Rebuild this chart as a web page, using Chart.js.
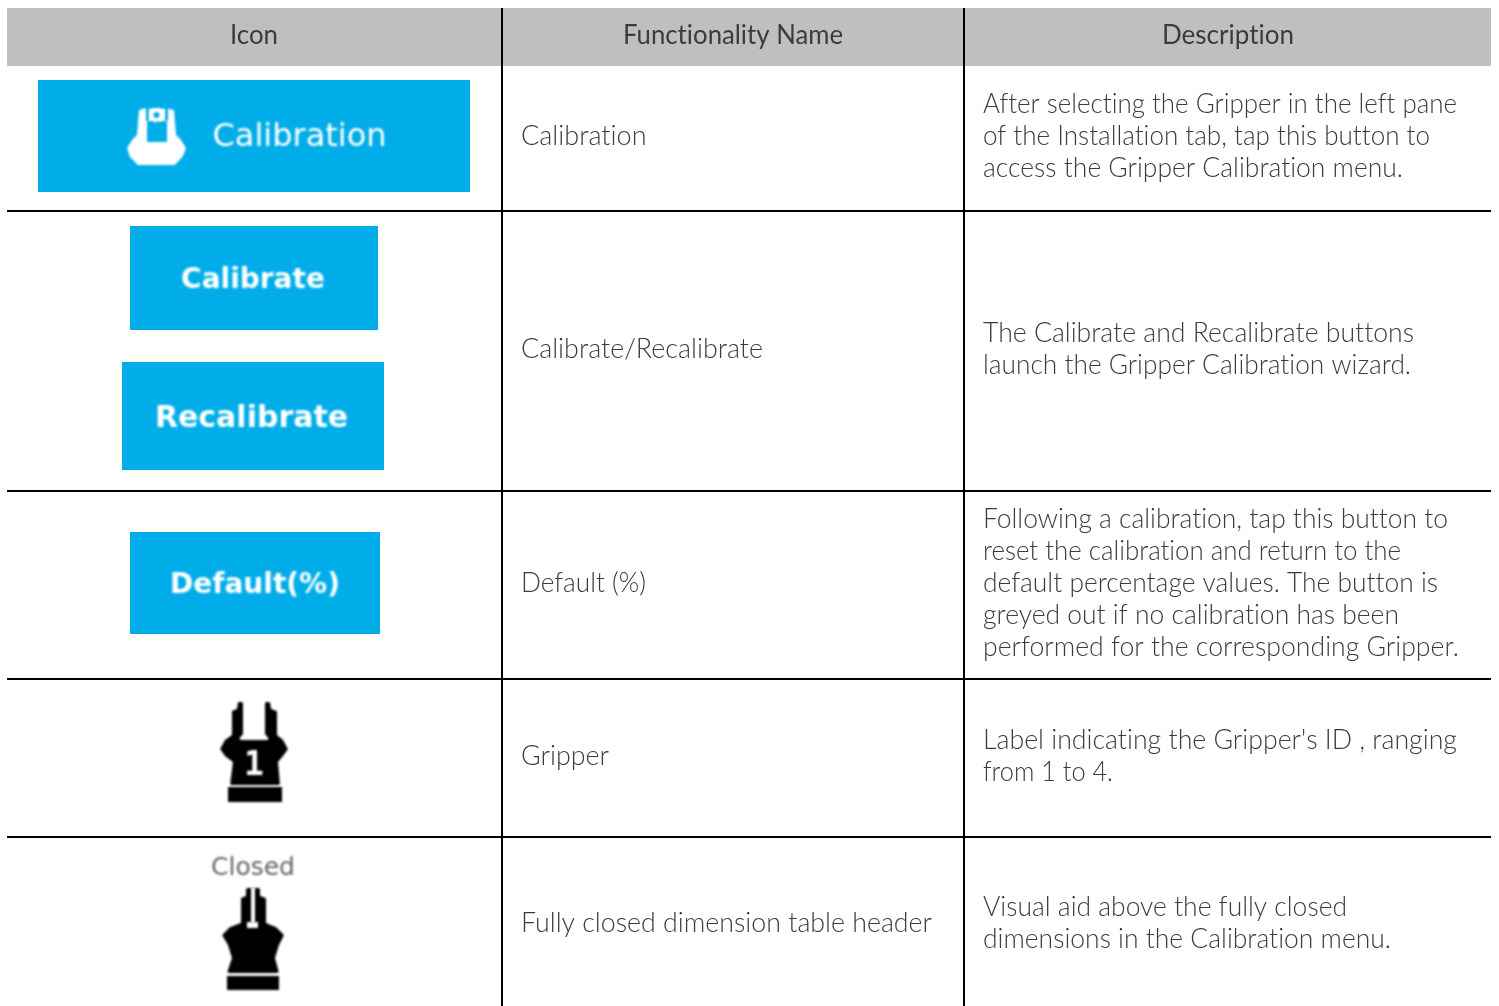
<!DOCTYPE html>
<html>
<head>
<meta charset="utf-8">
<title>Gripper calibration icons</title>
<script src="https://cdn.jsdelivr.net/npm/chart.js@4"></script>
<style>
  html, body { margin: 0; padding: 0; background: #fff; overflow: hidden; }
  canvas { display: block; }
</style>
</head>
<body>
<canvas id="tableChart" width="1499" height="1006"></canvas>
<script>
// Table content
const headers = ['Icon', 'Functionality Name', 'Description'];
const functionalityNames = [
    'Calibration',
    'Calibrate/Recalibrate',
    'Default (%)',
    'Gripper',
    'Fully closed dimension table header'
];
const descriptions = [
    ['After selecting the Gripper in the left pane', 'of the Installation tab, tap this button to', 'access the Gripper Calibration menu.'],
    ['The Calibrate and Recalibrate buttons', 'launch the Gripper Calibration wizard.'],
    ['Following a calibration, tap this button to', 'reset the calibration and return to the', 'default percentage values. The button is', 'greyed out if no calibration has been', 'performed for the corresponding Gripper.'],
    ["Label indicating the Gripper's ID , ranging", 'from 1 to 4.'],
    ['Visual aid above the fully closed', 'dimensions in the Calibration menu.']
];
const buttonLabels = ['Calibration', 'Calibrate', 'Recalibrate', 'Default(%)'];
const gripperId = '1';
const closedLabel = 'Closed';

// Layout, in page pixels
const columnLines = [502, 964];
const rowLines = [211, 491, 679, 837];
const headerBand = { left: 7, right: 1491, top: 8, bottom: 66 };
const buttonBoxes = [
    { left: 38, right: 470, top: 80, bottom: 192, textX: 299.5, textY: 138, font: '32px "DejaVu Sans"' },
    { left: 130, right: 378, top: 226, bottom: 330, textX: 253, textY: 281, font: 'bold 28px "DejaVu Sans"' },
    { left: 122, right: 384, top: 362, bottom: 470, textX: 251.5, textY: 419, font: 'bold 30px "DejaVu Sans"' },
    { left: 130, right: 380, top: 532, bottom: 634, textX: 255, textY: 586, font: 'bold 28px "DejaVu Sans"' }
];
const headerX = [254, 733, 1228];
const headerWidths = [48, 220, 132];
const headerY = 35;
const nameX = 521;
const nameWidths = [126, 242, 125, 88, 411];
const nameY = [136, 349, 583, 756, 923];
const descriptionX = 983;
const descriptionWidths = [[474, 447, 420], [431, 428], [465, 418, 455, 416, 476], [474, 130], [364, 408]];
const descriptionY = [104, 333, 519, 740, 907];
const lineHeight = 32;
const BLUE = '#00ADE9';
const BODY_FONT = '300 27px Lato';
const HEADER_FONT = '400 27px Lato';
const TEXT_COLOR = '#3c3c3c';

function bar(left, right, top, bottom, color) {
    return {
        data: [{ x: [left, right], y: (top + bottom) / 2 }],
        barThickness: bottom - top,
        backgroundColor: color
    };
}

// Chart.js paints the first dataset last, so the lines come first to stay on top of the header band
const datasets = [];
columnLines.forEach(x => datasets.push(bar(x - 1, x + 1, headerBand.top, 1006, '#000000')));
rowLines.forEach(y => datasets.push(bar(headerBand.left, headerBand.right, y - 1, y + 1, '#000000')));
buttonBoxes.forEach(b => datasets.push(bar(b.left, b.right, b.top, b.bottom, BLUE)));
datasets.push(bar(headerBand.left, headerBand.right, headerBand.top, headerBand.bottom, '#BFBFBF'));

// Filled outline with slightly rounded corners
function outline(ctx, points, radius) {
    const n = points.length;
    const first = points[0];
    const last = points[n - 1];
    ctx.beginPath();
    ctx.moveTo((first[0] + last[0]) / 2, (first[1] + last[1]) / 2);
    points.forEach((p, i) => {
        const next = points[(i + 1) % n];
        ctx.arcTo(p[0], p[1], (p[0] + next[0]) / 2, (p[1] + next[1]) / 2, radius);
    });
    ctx.closePath();
    ctx.fill();
}

function drawCameraIcon(ctx, px, py) {
    ctx.fillStyle = '#FFFFFF';
    outline(ctx, [[139, 110], [146, 108], [166, 108], [174, 110], [176, 135], [181, 140], [186, 148], [183, 156], [175, 165], [138, 165], [130, 157], [127, 148], [132, 140], [137, 135]].map(p => [px(p[0]), py(p[1])]), 2);
    ctx.fillStyle = BLUE;
    ctx.fillRect(px(147), py(121), 20, 21);
    ctx.fillRect(px(146), py(106), 3, 15);
    ctx.fillRect(px(165), py(106), 3, 15);
    ctx.fillRect(px(146), py(106), 22, 2);
    ctx.fillStyle = '#FFFFFF';
    ctx.beginPath();
    ctx.arc(px(156.5), py(115), 5.5, 0, Math.PI * 2);
    ctx.fill();
    ctx.strokeStyle = '#FFFFFF';
    ctx.lineWidth = 2;
    ctx.setLineDash([2.5, 2.6]);
    ctx.beginPath();
    ctx.arc(px(156.5), py(115), 6.5, 0, Math.PI * 2);
    ctx.stroke();
    ctx.setLineDash([]);
    ctx.fillStyle = BLUE;
    ctx.beginPath();
    ctx.arc(px(156.5), py(115), 3, 0, Math.PI * 2);
    ctx.fill();
}

function drawGripperOpen(ctx, px, py) {
    ctx.fillStyle = '#000000';
    outline(ctx, [[243, 702], [243, 734], [238, 740], [270, 740], [265, 734], [265, 702], [270, 702], [271, 709], [277, 711], [277, 735], [283, 740], [288, 749], [283, 756], [278, 762], [280, 785], [230, 785], [233, 762], [225, 756], [220, 749], [225, 740], [232, 735], [232, 711], [237, 709], [238, 702]].map(p => [px(p[0]), py(p[1])]), 1.5);
    ctx.fillRect(px(228), py(787), 54, 15);
    ctx.fillStyle = '#FFFFFF';
    ctx.font = 'bold 33px "DejaVu Sans Mono"';
    ctx.textAlign = 'center';
    ctx.textBaseline = 'middle';
    ctx.fillText(gripperId, px(254), py(766));
}

function drawGripperClosed(ctx, px, py) {
    ctx.fillStyle = '#000000';
    outline(ctx, [[246, 888], [260, 888], [260, 896], [266, 898], [266, 923], [276, 927], [284, 935], [279, 945], [275, 958], [279, 973], [227, 973], [232, 958], [228, 945], [222, 935], [230, 927], [241, 923], [241, 898], [246, 896]].map(p => [px(p[0]), py(p[1])]), 1.5);
    ctx.fillRect(px(227), py(976), 52, 14);
    ctx.fillStyle = '#FFFFFF';
    ctx.fillRect(px(251), py(887), 4, 36);
    ctx.fillRect(px(247), py(922), 11, 6);
}

// Draws the text and the small icons on top of the bars
const tableText = {
    id: 'tableText',
    afterDatasetsDraw(chart) {
        const ctx = chart.ctx;
        const px = v => chart.scales.x.getPixelForValue(v);
        const py = v => chart.scales.y.getPixelForValue(v);
        ctx.save();
        ctx.textBaseline = 'middle';
        ctx.textRendering = 'optimizeSpeed'; // no ti ligature, the source font has none

        ctx.fillStyle = TEXT_COLOR;
        ctx.font = HEADER_FONT;
        ctx.textAlign = 'center';
        headers.forEach((h, i) => ctx.fillText(h, px(headerX[i]), py(headerY), headerWidths[i]));

        ctx.font = BODY_FONT;
        ctx.textAlign = 'left';
        functionalityNames.forEach((n, i) => ctx.fillText(n, px(nameX), py(nameY[i]), nameWidths[i]));
        descriptions.forEach((lines, i) => {
            lines.forEach((line, j) => ctx.fillText(line, px(descriptionX), py(descriptionY[i] + j * lineHeight), descriptionWidths[i][j]));
        });

        // the icons in the source are scaled bitmaps, so soften them a little
        ctx.filter = 'blur(0.8px)';
        ctx.textAlign = 'center';
        ctx.fillStyle = '#FFFFFF';
        buttonBoxes.forEach((b, i) => {
            ctx.font = b.font;
            ctx.fillText(buttonLabels[i], px(b.textX), py(b.textY));
        });
        ctx.fillStyle = '#666666';
        ctx.font = '25px "DejaVu Sans"';
        ctx.fillText(closedLabel, px(253), py(868));

        drawCameraIcon(ctx, px, py);
        drawGripperOpen(ctx, px, py);
        drawGripperClosed(ctx, px, py);
        ctx.restore();
    }
};

new Chart(document.getElementById('tableChart'), {
    type: 'bar',
    data: { datasets },
    options: {
        indexAxis: 'y',
        responsive: false,
        animation: false,
        grouped: false,
        inflateAmount: 0,
        layout: { padding: 0 },
        plugins: { legend: { display: false }, tooltip: { enabled: false } },
        scales: {
            x: { type: 'linear', min: 0, max: 1499, display: false, offset: false },
            y: { type: 'linear', min: 0, max: 1006, reverse: true, display: false, offset: false }
        }
    },
    plugins: [tableText]
});
</script>
</body>
</html>
